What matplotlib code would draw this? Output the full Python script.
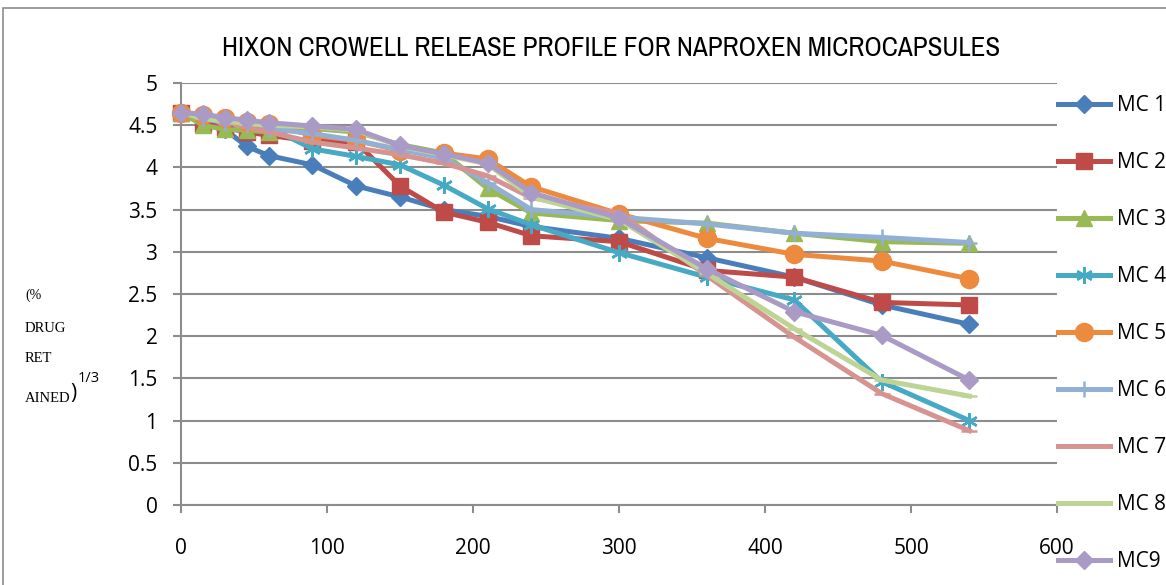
import matplotlib
matplotlib.use("Agg")
import matplotlib.pyplot as plt
from matplotlib.patches import Rectangle
from matplotlib import font_manager

# ---- data ----
time_min = [0, 15, 30, 45, 60, 90, 120, 150, 180, 210, 240, 300, 360, 420, 480, 540]
mc1 = [4.65, 4.55, 4.45, 4.25, 4.14, 4.03, 3.78, 3.65, 3.50, 3.42, 3.30, 3.16, 2.93, 2.70, 2.37, 2.14]
mc2 = [4.65, 4.52, 4.47, 4.42, 4.38, 4.31, 4.30, 3.78, 3.47, 3.35, 3.19, 3.12, 2.78, 2.70, 2.40, 2.37]
mc3 = [4.65, 4.50, 4.45, 4.44, 4.42, 4.46, 4.42, 4.27, 4.17, 3.75, 3.46, 3.37, 3.34, 3.22, 3.12, 3.10]
mc4 = [4.65, 4.60, 4.57, 4.55, 4.48, 4.22, 4.13, 4.03, 3.79, 3.51, 3.32, 2.99, 2.70, 2.43, 1.46, 1.00]
mc5 = [4.65, 4.62, 4.58, 4.54, 4.52, 4.38, 4.32, 4.20, 4.17, 4.10, 3.77, 3.45, 3.16, 2.97, 2.89, 2.68]
mc6 = [4.65, 4.58, 4.53, 4.50, 4.46, 4.40, 4.32, 4.21, 4.11, 3.82, 3.50, 3.41, 3.33, 3.22, 3.17, 3.11]
mc7 = [4.65, 4.60, 4.54, 4.48, 4.42, 4.30, 4.23, 4.15, 4.05, 3.90, 3.64, 3.46, 2.72, 1.99, 1.32, 0.88]
mc8 = [4.65, 4.58, 4.55, 4.52, 4.50, 4.48, 4.44, 4.25, 4.15, 4.04, 3.65, 3.38, 2.75, 2.09, 1.48, 1.29]
mc9 = [4.65, 4.63, 4.59, 4.56, 4.53, 4.49, 4.45, 4.26, 4.16, 4.05, 3.70, 3.40, 2.80, 2.29, 2.01, 1.48]
series_names = ["MC 1", "MC 2", "MC 3", "MC 4", "MC 5", "MC 6", "MC 7", "MC 8", "MC9"]
x_ticks = [0, 100, 200, 300, 400, 500, 600]
y_ticks = [0, 0.5, 1, 1.5, 2, 2.5, 3, 3.5, 4, 4.5, 5]
title = "HIXON CROWELL RELEASE PROFILE FOR NAPROXEN MICROCAPSULES"

series = [mc1, mc2, mc3, mc4, mc5, mc6, mc7, mc8, mc9]
colors = ["#4A7EBB", "#BE4B48", "#98B954", "#46AAC5", "#EC8A3E",
          "#92B0D6", "#D79390", "#BDD495", "#A99BC6"]
markers = ["D", "s", "^", (6, 2, 0), "o", "+", "_", "_", "D"]
msizes = [9, 12, 12, 12, 13, 12, 12, 12, 9]

# pick a narrow/condensed font for the title if one is installed
narrow = None
for f in font_manager.fontManager.ttflist:
    nm = f.name
    if ("Narrow" in nm or "Condensed" in nm) and "Mono" not in nm and f.style == "normal" \
            and f.weight in (400, "normal", "regular"):
        if "Liberation" in nm:
            narrow = nm
            break
        if narrow is None:
            narrow = nm
title_kw = dict(fontsize=19.5)
if narrow is not None:
    title_kw["family"] = [narrow, "DejaVu Sans"]
else:
    title_kw["family"] = ["DejaVu Sans"]
    title_kw["fontsize"] = 16

W, H = 1166, 585
fig = plt.figure(figsize=(W / 100, H / 100), dpi=100)
fig.patch.set_facecolor("white")

# outer chart frame (cropped on right and bottom)
fig.add_artist(Rectangle((3 / W, -0.1), 1.2, (H - 8) / H + 0.1, transform=fig.transFigure,
                         fill=False, edgecolor="#8C8C8C", linewidth=1.2))

ax = fig.add_axes([181 / W, (H - 505) / H, (1057 - 181) / W, (505 - 83) / H])
for i, (vals, name) in enumerate(zip(series, series_names)):
    mk = markers[i]
    ax.plot(time_min, vals, color=colors[i], linewidth=3.6, marker=mk,
            markersize=msizes[i], markerfacecolor=colors[i], markeredgecolor=colors[i],
            markeredgewidth=1.8 if mk in ["+", "_", (6, 2, 0)] else 1.0,
            label=name, solid_joinstyle="round", clip_on=False, zorder=3 + i)

ax.set_xlim(0, 600)
ax.set_ylim(0, 5)
ax.set_xticks(x_ticks)
ax.set_yticks(y_ticks)
ax.set_yticklabels([f"{v:g}" for v in y_ticks])
ax.grid(axis="y", color="#8C8C8C", linewidth=1.5)
ax.set_axisbelow(True)
for s in ["top", "right"]:
    ax.spines[s].set_visible(False)
for s in ["left", "bottom"]:
    ax.spines[s].set_color("#8C8C8C")
    ax.spines[s].set_linewidth(1.5)
ax.tick_params(axis="both", colors="#8C8C8C", labelcolor="black", width=1.5, length=6,
               labelsize=15)
ax.tick_params(axis="x", pad=18)
ax.tick_params(axis="y", pad=11)
for lab in ax.get_xticklabels() + ax.get_yticklabels():
    lab.set_fontfamily("Open Sans")

fig.text(611 / W, 1 - 49 / H, title, ha="center", va="center", **title_kw)

# y label pieces
serif = ["Liberation Serif", "DejaVu Serif"]
fig.text(25 / W, 1 - 295 / H, "(%", fontsize=10, family=serif, va="center")
fig.text(25 / W, 1 - 329 / H, "DRUG", fontsize=10.5, family=serif, va="center")
fig.text(25 / W, 1 - 359 / H, "RET", fontsize=10.5, family=serif, va="center")
fig.text(25 / W, 1 - 398 / H, "AINED", fontsize=10.5, family=serif, va="center")
fig.text(70 / W, 1 - 393 / H, ")", fontsize=15, family="Open Sans", va="center")
fig.text(78 / W, 1 - 378 / H, "1/3", fontsize=10.5, family="Open Sans", va="center")

leg = fig.legend(loc="upper left", bbox_to_anchor=(1058 / W, 1 - 95 / H),
                 frameon=False, fontsize=15, handlelength=2.5, handletextpad=0.35,
                 labelspacing=1.73, borderaxespad=0, borderpad=0)
for t in leg.get_texts():
    t.set_fontfamily("Open Sans")

fig.savefig("out.png", dpi=100)
